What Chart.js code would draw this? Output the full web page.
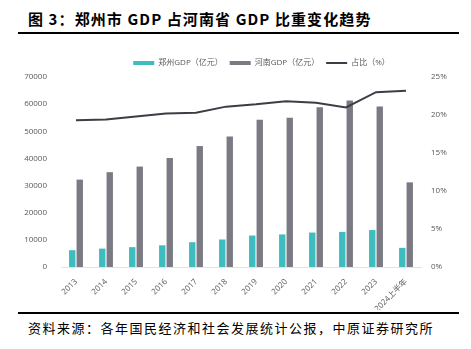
<!DOCTYPE html>
<html>
<head>
<meta charset="utf-8">
<script src="https://cdn.jsdelivr.net/npm/chart.js@4.4.0/dist/chart.umd.min.js"></script>
<style>
    body { margin: 0; width: 471px; height: 349px; background: #fff; position: relative; overflow: hidden; font-family: "Noto Sans CJK SC", sans-serif; }
    .title { position: absolute; left: 28px; top: 8px; font-size: 15px; font-weight: 700; color: #000; letter-spacing: 1.1px; white-space: nowrap; }
    .rule { position: absolute; left: 18px; width: 441px; height: 2px; background: #000; }
    .source { position: absolute; left: 28px; top: 318px; font-size: 13px; color: #000; letter-spacing: 1.5px; white-space: nowrap; }
    .chart-box { position: absolute; left: 0; top: 40px; width: 471px; height: 270px; }
</style>
</head>
<body>
<div class="title">图 3：郑州市 GDP 占河南省 GDP 比重变化趋势</div>
<div class="rule" style="top:32px"></div>
<div class="chart-box"><canvas id="gdpChart"></canvas></div>
<div class="rule" style="top:312px"></div>
<div class="source">资料来源：各年国民经济和社会发展统计公报，中原证券研究所</div>

<script>
// Years on the x axis
const years = ['2013', '2014', '2015', '2016', '2017', '2018', '2019', '2020', '2021', '2022', '2023', '2024上半年'];

// GDP in 100 million yuan
const zhengzhouGdp = [6202, 6777, 7312, 7994, 9130, 10143, 11590, 12003, 12691, 12935, 13617, 7054];
const henanGdp = [32191, 34938, 37002, 40160, 44553, 48056, 54259, 54997, 58887, 61345, 59132, 31189];

// Zhengzhou share of Henan, percent
const sharePct = [19.3, 19.4, 19.8, 20.2, 20.3, 21.1, 21.4, 21.8, 21.6, 21.0, 23.0, 23.2];

const tickFont = { family: '"Open Sans", "Noto Sans CJK SC", sans-serif', size: 8 };
const tickColor = '#595959';

// nudge the legend row to the right of the canvas centre
const legendShift = {
    id: 'legendShift',
    beforeDraw(chart) {
        const lg = chart.legend;
        if (lg && !lg._shifted) {
            lg.left += 26;
            lg.right += 26;
            lg._shifted = true;
        }
    }
};

document.addEventListener('DOMContentLoaded', function() {
    const ctx = document.getElementById('gdpChart');
    new Chart(ctx, {
        data: {
            labels: years,
            datasets: [{
                type: 'line',
                label: '占比（%）',
                data: sharePct,
                yAxisID: 'y1',
                borderColor: '#3d3d45',
                backgroundColor: '#3d3d45',
                borderWidth: 2,
                pointRadius: 0,
                tension: 0,
                order: 0
            }, {
                type: 'bar',
                label: '郑州GDP（亿元）',
                data: zhengzhouGdp,
                yAxisID: 'y',
                backgroundColor: '#3dbdbf',
                categoryPercentage: 0.5,
                barPercentage: 0.85,
                order: 1
            }, {
                type: 'bar',
                label: '河南GDP（亿元）',
                data: henanGdp,
                yAxisID: 'y',
                backgroundColor: '#7a7a84',
                categoryPercentage: 0.5,
                barPercentage: 0.85,
                order: 1
            }]
        },
        plugins: [legendShift],
        options: {
            responsive: true,
            maintainAspectRatio: false,
            animation: false,
            layout: { padding: { left: 0, right: 0, top: 12, bottom: 0 } },
            plugins: {
                tooltip: { enabled: false },
                legend: {
                    position: 'top',
                    labels: {
                        font: tickFont,
                        color: tickColor,
                        usePointStyle: true,
                        pointStyleWidth: 21,
                        boxWidth: 21,
                        boxHeight: 4,
                        padding: 7,
                        // bars first, then the share line
                        sort: (a, b) => (a.datasetIndex === 0 ? 1 : 0) - (b.datasetIndex === 0 ? 1 : 0),
                        // solid keys for the bars, a thin stroke for the line
                        generateLabels: function(chart) {
                            const items = Chart.defaults.plugins.legend.labels.generateLabels(chart);
                            items.forEach(item => {
                                if (item.datasetIndex === 0) {
                                    item.pointStyle = 'line';
                                    item.strokeStyle = '#3d3d45';
                                    item.lineWidth = 2;
                                } else {
                                    item.pointStyle = 'rect';
                                    item.lineWidth = 0;
                                }
                            });
                            return items;
                        }
                    }
                }
            },
            scales: {
                x: {
                    grid: { display: false },
                    border: { display: true, color: '#e3e3e3' },
                    ticks: { font: tickFont, color: tickColor, maxRotation: 45, minRotation: 45, padding: 2 },
                    afterFit: function(scale) { scale.height = 43; }
                },
                y: {
                    position: 'left',
                    min: 0,
                    max: 70000,
                    grid: { display: false },
                    border: { display: false },
                    ticks: { stepSize: 10000, font: tickFont, color: tickColor, padding: 6, callback: v => String(v) },
                    afterFit: function(scale) { scale.width = 61; }
                },
                y1: {
                    position: 'right',
                    min: 0,
                    max: 25,
                    grid: { display: false },
                    border: { display: false },
                    ticks: { stepSize: 5, font: tickFont, color: tickColor, padding: 2, callback: v => v + '%' },
                    afterFit: function(scale) { scale.width = 50; }
                }
            }
        }
    });
});
</script>
</body>
</html>
